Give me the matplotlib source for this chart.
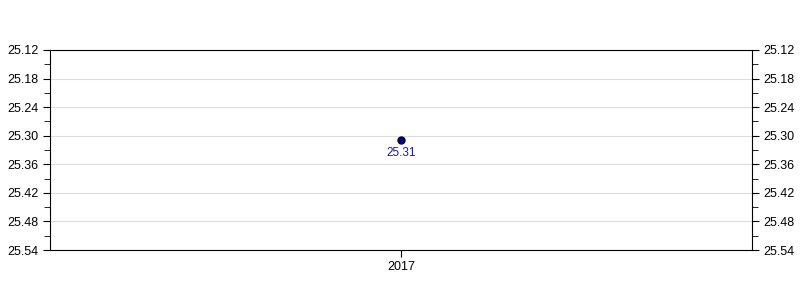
import matplotlib
matplotlib.use("Agg")
import matplotlib.pyplot as plt
import numpy as np
from matplotlib.ticker import FixedLocator, FormatStrFormatter

plt.rcParams['font.family'] = ['Liberation Sans', 'DejaVu Sans']

years = ["2017"]
values = [25.31]
labels = ["25.31"]

y_top = 25.12
y_bottom = 25.54
y_step = 0.06

fig = plt.figure(figsize=(8, 3), dpi=100)
ax = fig.add_axes([50/800, 50/300, 702/800, 200/300])

xs = list(range(len(years)))
ax.plot(xs, values, 'o', color='#000080', markeredgecolor='#000033', markersize=5, zorder=3)
for x, v, t in zip(xs, values, labels):
    ax.annotate(t, (x, v), xytext=(0, -5), textcoords='offset points',
                ha='center', va='top', color='#1a1a99', fontsize=8.5)

ax.set_xlim(-0.5, len(years) - 0.5)
ax.set_xticks(xs)
ax.set_xticklabels(years)
ax.set_ylim(y_bottom, y_top)
n = int(round((y_bottom - y_top) / y_step))
major = [y_top + i * y_step for i in range(n + 1)]
minor = [y_top + (i + 0.5) * y_step for i in range(n)]
ax.yaxis.set_major_locator(FixedLocator(major))
ax.yaxis.set_minor_locator(FixedLocator(minor))
ax.yaxis.set_major_formatter(FormatStrFormatter('%.2f'))
ax.grid(axis='y', which='major', color='#dddddd', linewidth=0.8)
ax.set_axisbelow(True)
ax.tick_params(axis='both', which='major', length=5, labelsize=9, direction='out', color='black', pad=3)
ax.tick_params(axis='y', which='minor', length=4, direction='out')
ax.tick_params(axis='y', which='both', right=True, labelright=True)
for s in ax.spines.values():
    s.set_color('black')
    s.set_linewidth(0.8)

fig.savefig('out.png', dpi=100)
